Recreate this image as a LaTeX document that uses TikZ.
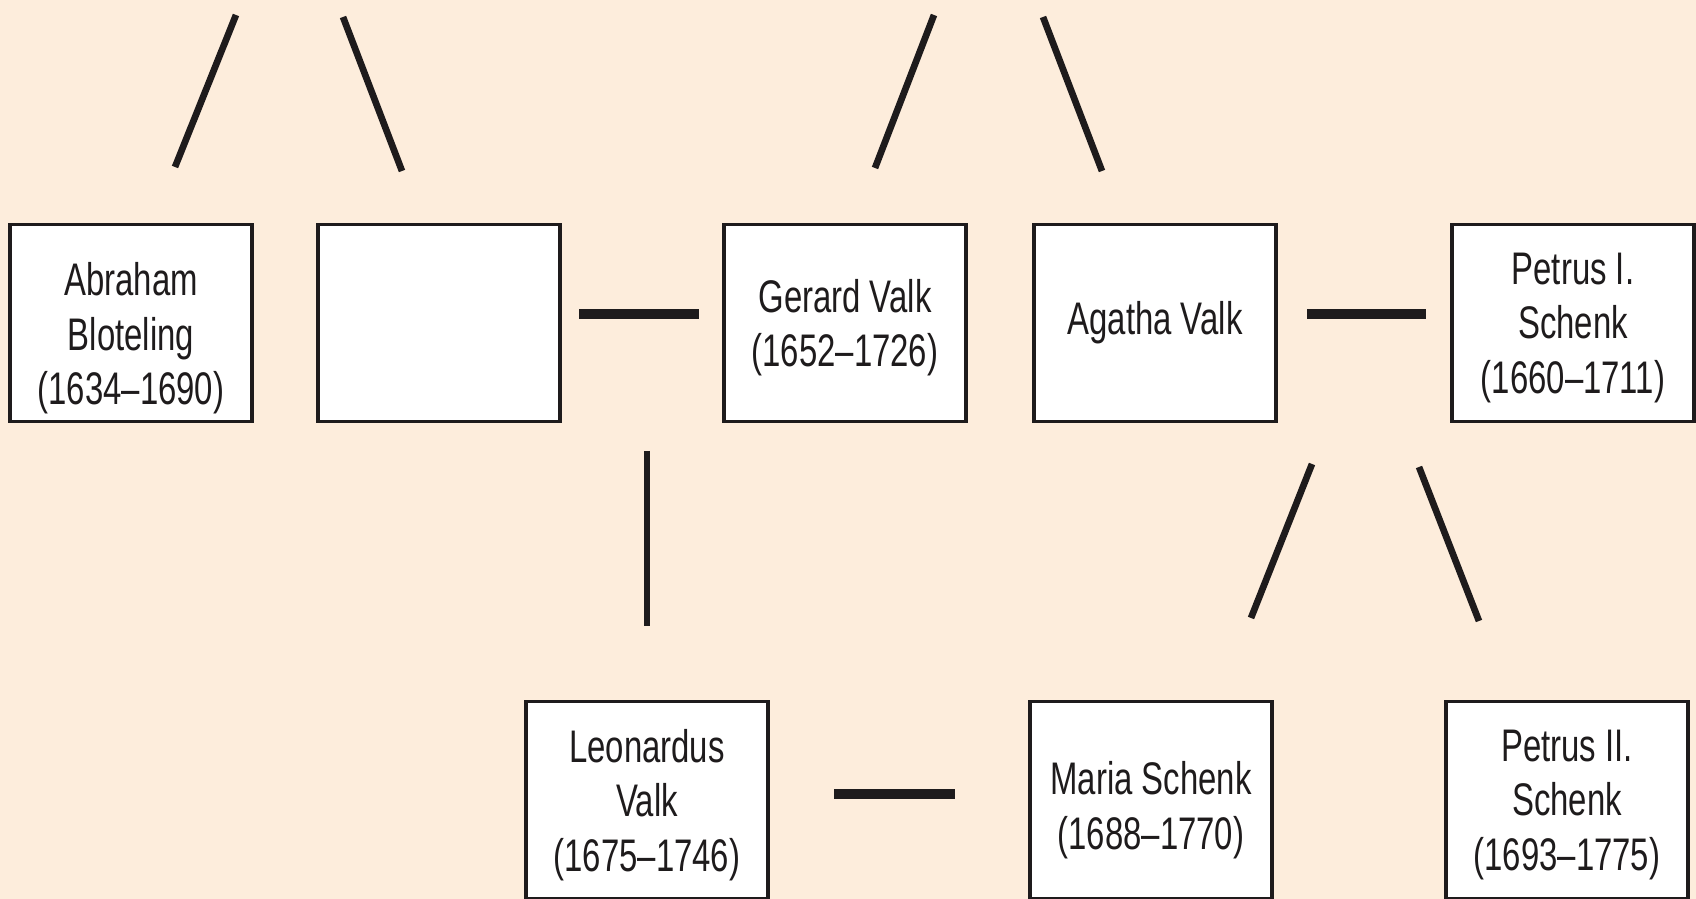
\documentclass[tikz,border=0pt]{standalone}
\usepackage{fontspec}
\setmainfont{Liberation Sans}[FakeStretch=0.72]
\usetikzlibrary{positioning,calc}
\definecolor{peach}{RGB}{253,237,220}
\definecolor{ink}{RGB}{30,27,28}
\tikzset{person/.style={draw=ink, line width=1.1pt, fill=white, text=ink,
    minimum width=2.42cm, minimum height=1.97cm, inner sep=0pt, outer sep=0pt,
    align=center, text depth=0pt, font=\fontsize{13}{15.5}\selectfont},
  kin/.style={draw=ink, line width=1.9pt},
  wed/.style={draw=ink, line width=2.7pt}}

\begin{document}
\begin{tikzpicture}

      \fill[peach] (0,0) rectangle (16.96,-8.99);
      \useasboundingbox (0,0) rectangle (16.96,-8.99);

      % first row
      \node[person, text height=46.5pt] (abraham) at (1.31,-3.23) {Abraham\\Bloteling\\(1634--1690)};
      \node[person] (blank) [right=0.66cm of abraham] {};
      \node[person] (gerard) [right=1.64cm of blank] {Gerard Valk\\(1652--1726)};
      \node[person, text depth=2.7pt] (agatha) [right=0.68cm of gerard] {Agatha Valk};
      \node[person] (petrusI) [right=1.76cm of agatha] {Petrus I.\\Schenk\\(1660--1711)};

      % second row
      \node[person] (leonardus) at (6.47,-8.00) {Leonardus\\Valk\\(1675--1746)};
      \node[person, text height=28pt] (maria) [right=2.62cm of leonardus] {Maria Schenk\\(1688--1770)};
      \node[person] (petrusII) [right=1.74cm of maria] {Petrus II.\\Schenk\\(1693--1775)};

      % ends of the loose lines
      \coordinate (f1l) at (2.36,-0.15);
      \coordinate (f1lb) at (1.75,-1.67);
      \coordinate (f1r) at (3.43,-0.17);
      \coordinate (f1rb) at (4.02,-1.71);
      \coordinate (f2l) at (9.34,-0.15);
      \coordinate (f2lb) at (8.75,-1.68);
      \coordinate (f2r) at (10.43,-0.17);
      \coordinate (f2rb) at (11.02,-1.71);
      \coordinate (f3l) at (13.12,-4.64);
      \coordinate (f3lb) at (12.51,-6.18);
      \coordinate (f3r) at (14.19,-4.67);
      \coordinate (f3rb) at (14.79,-6.21);
      \coordinate (v1) at (6.47,-4.51);

      \draw[kin] (f1l) -- (f1lb);
      \draw[kin] (f1r) -- (f1rb);
      \draw[kin] (f2l) -- (f2lb);
      \draw[kin] (f2r) -- (f2rb);
      \draw[kin] (f3l) -- (f3lb);
      \draw[kin] (f3r) -- (f3rb);
      \draw[kin, line width=1.6pt, shorten >=0.755cm] (v1) -- (leonardus);

      \draw[wed, shorten <=0.19cm, shorten >=0.25cm] ([yshift=0.09cm]blank.east) -- ([yshift=0.09cm]gerard.west);
      \draw[wed, shorten <=0.31cm, shorten >=0.26cm] ([yshift=0.09cm]agatha.east) -- ([yshift=0.09cm]petrusI.west);
      \draw[wed, shorten <=0.66cm, shorten >=0.75cm] ([yshift=0.06cm]leonardus.east) -- ([yshift=0.06cm]maria.west);

\end{tikzpicture}
\end{document}
